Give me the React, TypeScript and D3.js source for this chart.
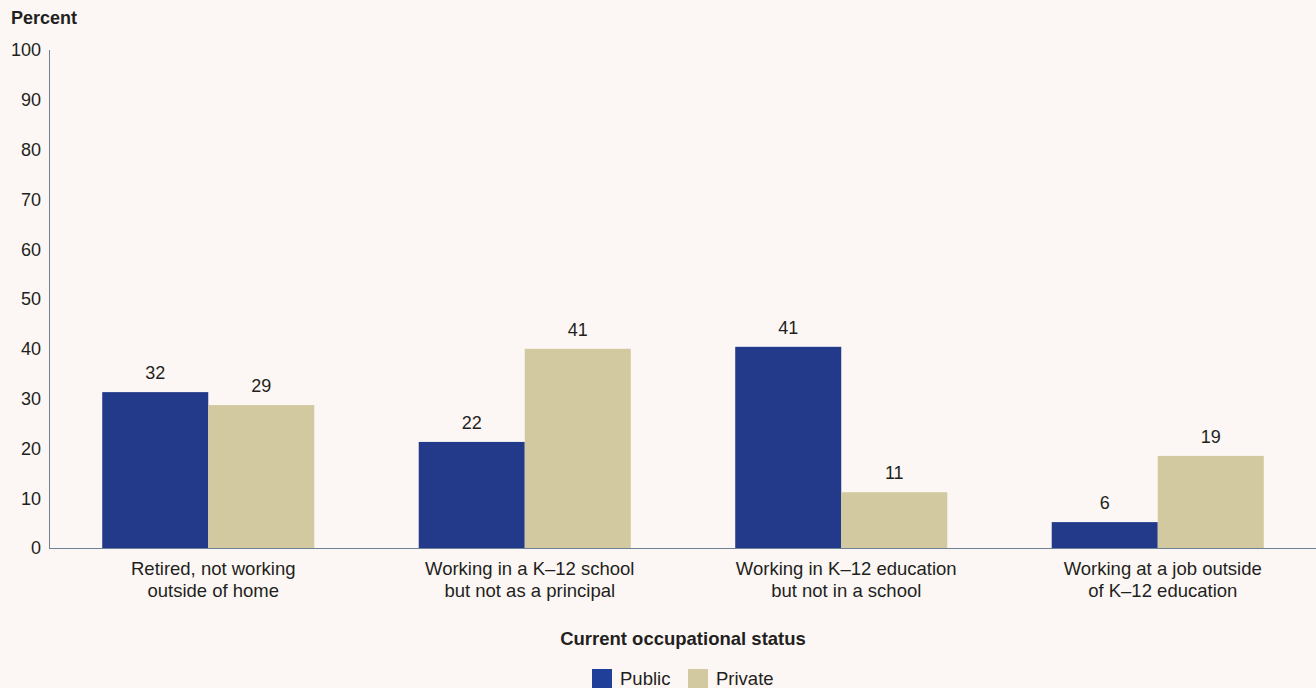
import React, { useEffect, useRef } from "react";
import * as d3 from "d3";

const categories = [
  ["Retired, not working", "outside of home"],
  ["Working in a K\u201312 school", "but not as a principal"],
  ["Working in K\u201312 education", "but not in a school"],
  ["Working at a job outside", "of K\u201312 education"],
];
const seriesNames = ["Public", "Private"];
const publicValues = [31.3, 21.3, 40.4, 5.2];
const privateValues = [28.7, 40.0, 11.2, 18.5];
const publicLabels = ["32", "22", "41", "6"];
const privateLabels = ["29", "41", "11", "19"];
const yTicks = [0, 10, 20, 30, 40, 50, 60, 70, 80, 90, 100];

const W = 1316;
const H = 688;
const FONT = "'Liberation Sans', Arial, Helvetica, sans-serif";
const COLORS = ["#233a8b", "#d3c9a0"];
const TEXT = "#231f20";

export default function App() {
  const ref = useRef<SVGSVGElement>(null);

  useEffect(() => {
    document.body.style.margin = "0";
    document.body.style.background = "#fcf7f5";
    const svg = d3.select(ref.current);
    svg.selectAll("*").remove();

    svg.append("rect").attr("width", W).attr("height", H).attr("fill", "#fcf7f5");

    const x0 = 50;
    const x1 = W;
    const yTop = 50;
    const yBottom = 548;

    const y = d3.scaleLinear().domain([0, 100]).range([yBottom, yTop]);
    const keys = categories.map((_, i) => String(i));
    const x = d3.scaleBand<string>().domain(keys).range([x0, x1]).paddingInner(0.33).paddingOuter(0.165);
    const xs = d3.scaleBand<string>().domain(seriesNames).range([0, x.bandwidth()]);

    const series = [publicValues, privateValues];
    const labels = [publicLabels, privateLabels];

    // Y tick labels
    const gy = svg.append("g");
    yTicks.forEach((t) => {
      gy.append("text")
        .attr("x", 41)
        .attr("y", y(t))
        .attr("dy", "0.35em")
        .attr("text-anchor", "end")
        .attr("font-family", FONT)
        .attr("font-size", 18)
        .attr("fill", TEXT)
        .text(t);
    });

    svg.append("text")
      .attr("x", 11)
      .attr("y", 24)
      .attr("font-family", FONT)
      .attr("font-size", 18)
      .attr("font-weight", "bold")
      .attr("fill", TEXT)
      .text("Percent");

    // Bars
    keys.forEach((k, i) => {
      seriesNames.forEach((s, j) => {
        const v = series[j][i];
        const bx = (x(k) as number) + (xs(s) as number);
        svg.append("rect")
          .attr("x", bx)
          .attr("y", y(v))
          .attr("width", xs.bandwidth())
          .attr("height", y(0) - y(v))
          .attr("fill", COLORS[j]);
        svg.append("text")
          .attr("x", bx + xs.bandwidth() / 2)
          .attr("y", y(v) - 13)
          .attr("text-anchor", "middle")
          .attr("font-family", FONT)
          .attr("font-size", 18)
          .attr("fill", TEXT)
          .text(labels[j][i]);
      });
      const cx = (x(k) as number) + x.bandwidth() / 2 + 5;
      categories[i].forEach((line, li) => {
        svg.append("text")
          .attr("x", cx)
          .attr("y", 575 + li * 22)
          .attr("text-anchor", "middle")
          .attr("font-family", FONT)
          .attr("font-size", 18.5)
          .attr("fill", TEXT)
          .text(line);
      });
    });

    // Axes lines
    svg.append("line")
      .attr("x1", 49.5).attr("x2", 49.5)
      .attr("y1", yTop).attr("y2", yBottom + 1)
      .attr("stroke", "#6f8293").attr("stroke-width", 1);
    svg.append("line")
      .attr("x1", 49).attr("x2", W)
      .attr("y1", yBottom + 0.5).attr("y2", yBottom + 0.5)
      .attr("stroke", "#6f8293").attr("stroke-width", 1.2);

    // X axis title
    svg.append("text")
      .attr("x", 683)
      .attr("y", 645)
      .attr("text-anchor", "middle")
      .attr("font-family", FONT)
      .attr("font-size", 18.5)
      .attr("font-weight", "bold")
      .attr("fill", TEXT)
      .text("Current occupational status");

    // Legend
    const legendX = [592, 688];
    seriesNames.forEach((s, j) => {
      svg.append("rect")
        .attr("x", legendX[j])
        .attr("y", 669)
        .attr("width", 20)
        .attr("height", 20)
        .attr("fill", j === 0 ? "#1f3f99" : COLORS[1]);
      svg.append("text")
        .attr("x", legendX[j] + 28)
        .attr("y", 685)
        .attr("font-family", FONT)
        .attr("font-size", 18.5)
        .attr("fill", TEXT)
        .text(s);
    });
  }, []);

  return (
    <svg
      ref={ref}
      width={W}
      height={H}
      style={{ display: "block", position: "absolute", left: 0, top: 0 }}
    />
  );
}
